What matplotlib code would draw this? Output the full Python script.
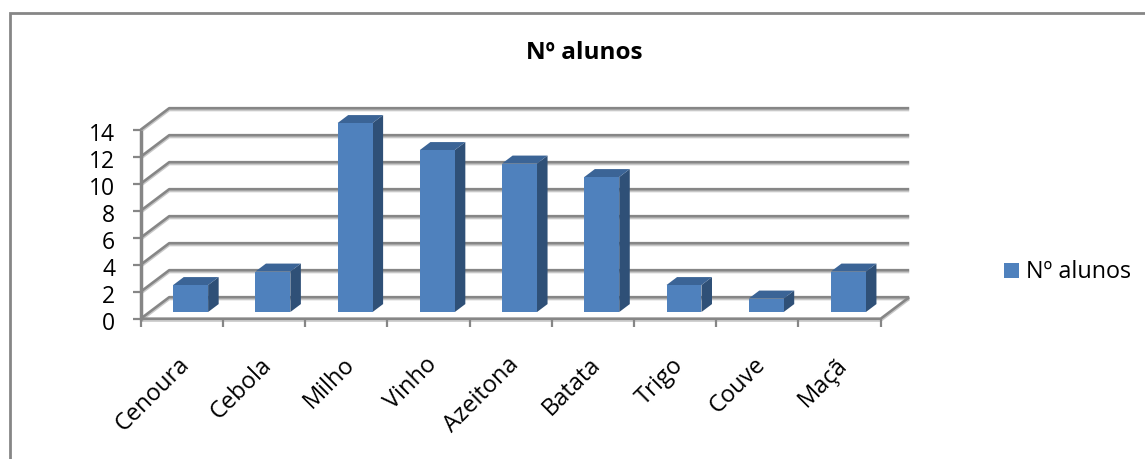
import matplotlib
matplotlib.use("Agg")
import matplotlib.pyplot as plt
import matplotlib.patheffects as pe
from matplotlib.patches import Polygon, Rectangle
from matplotlib.transforms import ScaledTranslation

categories = ["Cenoura", "Cebola", "Milho", "Vinho", "Azeitona", "Batata", "Trigo", "Couve", "Maçã"]
alunos = [2, 3, 14, 12, 11, 10, 2, 1, 3]
y_ticks = [0, 2, 4, 6, 8, 10, 12, 14]
title = "Nº alunos"

W, H = 1145, 460
FRONT = "#4F81BD"
TOP = "#3B6496"
SIDE = "#2F5077"
GREY = "#868686"

plt.rcParams["font.family"] = ["Open Sans", "DejaVu Sans"]

fig = plt.figure(figsize=(W / 100, H / 100), dpi=100)
fig.patch.set_facecolor("white")

# axes box is the front plane of the 3D chart
x0, x1 = 140.7, 880.7
y0, y1 = 319.7, 130.7
ax = fig.add_axes([x0 / W, 1 - y0 / H, (x1 - x0) / W, (y0 - y1) / H])
ax.set_xlim(0, len(categories))
ax.set_ylim(0, 14)
ax.patch.set_alpha(0)
for s in ax.spines.values():
    s.set_visible(False)

# depth of the floor, in data units
dx = 28.5 / ((x1 - x0) / len(categories))
dy = 21.5 / ((y0 - y1) / 14)
shadow = [pe.SimpleLineShadow(offset=(0, -1.3), shadow_color="#868686", alpha=0.45), pe.Normal()]


def proj(x, y, d):
    return (x + d * dx, y + d * dy)


def line(pts, lw=1.9):
    xs, ys = zip(*pts)
    ax.plot(xs, ys, color=GREY, lw=lw, clip_on=False, solid_capstyle="butt", path_effects=shadow)


n = len(categories)
# walls and floor
for v in y_ticks:
    line([proj(0, v, 0), proj(0, v, 1), proj(n, v, 1)])
line([proj(0, 0, 0), proj(n, 0, 0), proj(n, 0, 1)])
line([(0, 0), (0, 14)], lw=2.4)

# bars, back faces first
bw = 0.425
d0, d1 = 0.31, 0.68
for i, v in enumerate(alunos):
    l, r = i + 0.5 - bw / 2, i + 0.5 + bw / 2
    ax.add_patch(Polygon([proj(r, 0, d0), proj(r, 0, d1), proj(r, v, d1), proj(r, v, d0)],
                         fc=SIDE, ec="none", clip_on=False, zorder=3))
    ax.add_patch(Polygon([proj(l, v, d0), proj(r, v, d0), proj(r, v, d1), proj(l, v, d1)],
                         fc=TOP, ec="none", clip_on=False, zorder=3))
    ax.add_patch(Polygon([proj(l, 0, d0), proj(r, 0, d0), proj(r, v, d0), proj(l, v, d0)],
                         fc=FRONT, ec="none", clip_on=False, zorder=4))

ax.set_yticks(y_ticks)
ax.set_yticklabels([str(v) for v in y_ticks], fontsize=16.5, color="black")
ax.tick_params(axis="y", length=5.5, width=1.6, color=GREY, pad=13)
ynudge = ScaledTranslation(0, -1.2 / 100, fig.dpi_scale_trans)
for lab in ax.get_yticklabels():
    lab.set_transform(lab.get_transform() + ynudge)

ax.set_xticks(range(n + 1))
ax.set_xticklabels([])
ax.tick_params(axis="x", which="major", length=5.5, width=1.6, color=GREY)
ax.set_xticks([i + 0.5 for i in range(n)], minor=True)
ax.set_xticklabels(categories, minor=True, rotation=45, ha="right", rotation_mode="anchor",
                   fontsize=17, color="black")
ax.tick_params(axis="x", which="minor", length=0, pad=24)
nudge = ScaledTranslation(-4 / 100, 0, fig.dpi_scale_trans)
for lab in ax.get_xticklabels(minor=True):
    lab.set_transform(lab.get_transform() + nudge)

fig.text(584 / W, 1 - 53 / H, title, ha="center", va="center", fontsize=17.5, fontweight="bold")

# legend key and label
fig.add_artist(Rectangle((1004 / W, 1 - 279 / H), 15 / W, 15 / H, fc=FRONT, ec="none",
                         transform=fig.transFigure))
fig.text(1026 / W, 1 - 272 / H, "Nº alunos", ha="left", va="center", fontsize=16.8)

# chart border, only the left and top edges show
fig.add_artist(plt.Line2D([9.5 / W, 9.5 / W, 1145 / W], [0, 1 - 13.5 / H, 1 - 13.5 / H],
                          color=GREY, lw=2, solid_joinstyle="miter", transform=fig.transFigure))

fig.savefig("out.png", dpi=100)
